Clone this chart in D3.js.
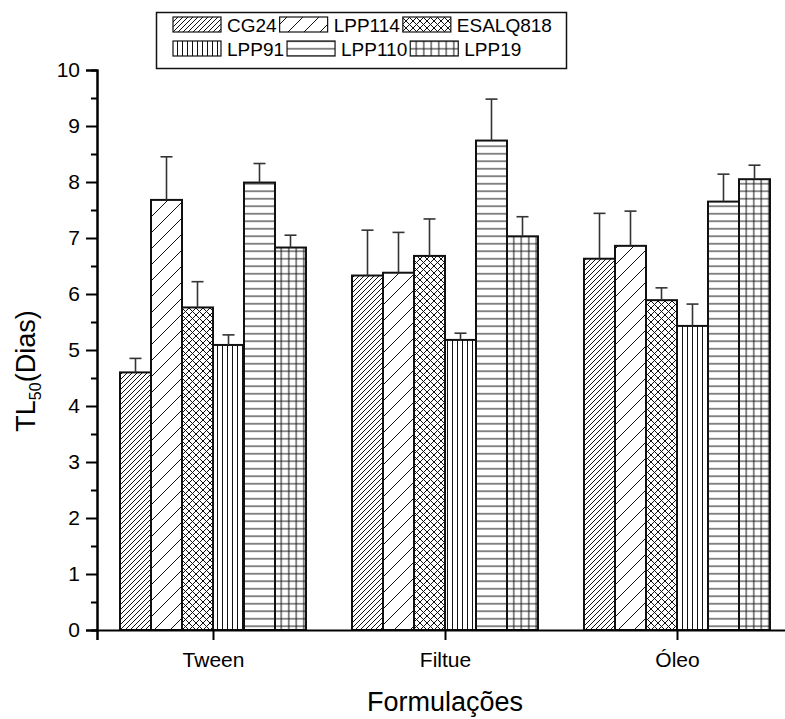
<html>
<head>
  <script src="https://d3js.org/d3.v7.min.js"></script>
  <style>
    body { margin: 0; background: white; }
    text { font-family: "Liberation Sans", Arial, sans-serif; fill: black; }
    .axis path, .axis line { stroke: black; stroke-width: 2px; }
    .axis text { font-size: 21px; font-family: "Liberation Sans", Arial, sans-serif; }
  </style>
</head>
<body>
  <svg id="chart" width="785" height="719"></svg>
  <script>
    const categories = ["Tween", "Filtue", "Óleo"];
    const series = ["CG24", "LPP114", "ESALQ818", "LPP91", "LPP110", "LPP19"];

    // mean TL50 per formulation (Tween, Filtue, Óleo)
    const cg24 = [4.60, 6.33, 6.63];
    const lpp114 = [7.68, 6.38, 6.86];
    const esalq818 = [5.76, 6.68, 5.89];
    const lpp91 = [5.09, 5.18, 5.43];
    const lpp110 = [7.99, 8.74, 7.65];
    const lpp19 = [6.83, 7.03, 8.05];

    // upper error (sd)
    const cg24Err = [0.25, 0.81, 0.81];
    const lpp114Err = [0.77, 0.72, 0.62];
    const esalq818Err = [0.46, 0.66, 0.22];
    const lpp91Err = [0.18, 0.12, 0.39];
    const lpp110Err = [0.34, 0.74, 0.49];
    const lpp19Err = [0.22, 0.35, 0.25];

    const yTicks = [0, 1, 2, 3, 4, 5, 6, 7, 8, 9, 10];

    const means = [cg24, lpp114, esalq818, lpp91, lpp110, lpp19];
    const errs = [cg24Err, lpp114Err, esalq818Err, lpp91Err, lpp110Err, lpp19Err];

    const data = [];
    series.forEach((s, si) => {
      categories.forEach((c, ci) => {
        data.push({ series: s, cat: ci + 1, value: means[si][ci], err: errs[si][ci] });
      });
    });

    const svg = d3.select("svg#chart");
    const plotLeft = 97, plotTop = 70, plotBottom = 630;

    const x = d3.scaleLinear().domain([0.5, 3.5]).range([plotLeft, plotLeft + 696]);
    const inner = d3.scaleBand().domain(series).range([-93, 93]);
    const y = d3.scaleLinear().domain([0, 10]).range([plotBottom, plotTop]);

    // hatch patterns
    const defs = svg.append("defs");
    function pat(id, w, h, d) {
      defs.append("pattern")
        .attr("id", id)
        .attr("patternUnits", "userSpaceOnUse")
        .attr("width", w)
        .attr("height", h)
        .append("path")
        .attr("d", d)
        .attr("stroke", "#111")
        .attr("stroke-width", 1)
        .attr("fill", "none");
    }
    function diag(s) {
      return "M0," + s + "L" + s + ",0M-1,1L1,-1M" + (s - 1) + "," + (s + 1) + "L" + (s + 1) + "," + (s - 1);
    }
    function cross(s) {
      return diag(s) + "M0,0L" + s + "," + s + "M-1," + (s - 1) + "L1," + (s + 1) + "M" + (s - 1) + ",-1L" + (s + 1) + ",1";
    }
    pat("p-CG24", 5, 5, diag(5));
    pat("p-LPP114", 16, 16, diag(16));
    pat("p-ESALQ818", 7, 7, cross(7));
    pat("p-LPP91", 5, 10, "M2.5,0V10");
    pat("p-LPP110", 10, 7.5, "M0,3.75H10");
    pat("p-LPP19", 7.5, 7.5, "M3.75,0V7.5M0,3.75H7.5");

    const bars = svg.append("g").attr("id", "bars");
    bars.selectAll("rect")
      .data(data)
      .join("rect")
      .attr("x", d => x(d.cat) + inner(d.series))
      .attr("y", d => y(d.value))
      .attr("width", inner.bandwidth())
      .attr("height", d => y(0) - y(d.value))
      .attr("fill", d => "url(#p-" + d.series + ")")
      .attr("stroke", "#111")
      .attr("stroke-width", 2);

    // error bars (upper only)
    const errG = svg.append("g").attr("id", "errors")
      .attr("stroke", "#333")
      .attr("stroke-width", 1.6);
    errG.selectAll("line.v")
      .data(data)
      .join("line")
      .attr("class", "v")
      .attr("x1", d => x(d.cat) + inner(d.series) + inner.bandwidth() / 2)
      .attr("x2", d => x(d.cat) + inner(d.series) + inner.bandwidth() / 2)
      .attr("y1", d => y(d.value))
      .attr("y2", d => y(d.value + d.err));
    errG.selectAll("line.cap")
      .data(data)
      .join("line")
      .attr("class", "cap")
      .attr("x1", d => x(d.cat) + inner(d.series) + inner.bandwidth() / 2 - 6)
      .attr("x2", d => x(d.cat) + inner(d.series) + inner.bandwidth() / 2 + 6)
      .attr("y1", d => y(d.value + d.err))
      .attr("y2", d => y(d.value + d.err));

    // axes
    const xAxis = d3.axisBottom(x)
      .tickValues([0.5, 1, 2, 3])
      .tickFormat(d => d === 0.5 ? "" : categories[d - 1])
      .tickSizeOuter(0)
      .tickSize(10)
      .tickPadding(12);
    svg.append("g")
      .attr("class", "x axis")
      .attr("transform", "translate(0," + plotBottom + ")")
      .call(xAxis);

    const yMinor = d3.axisLeft(y)
      .tickValues(yTicks.slice(0, -1).map(v => v + 0.5))
      .tickFormat("")
      .tickSizeOuter(0)
      .tickSize(6);
    svg.append("g")
      .attr("class", "y axis minor")
      .attr("transform", "translate(" + plotLeft + ",0)")
      .call(yMinor);

    const yAxis = d3.axisLeft(y)
      .tickValues(yTicks)
      .tickFormat(d3.format("d"))
      .tickSizeOuter(0)
      .tickSize(11)
      .tickPadding(6);
    svg.append("g")
      .attr("class", "y axis")
      .attr("transform", "translate(" + plotLeft + ",0)")
      .call(yAxis);

    svg.append("text")
      .text("Formulações")
      .attr("x", x(2))
      .attr("y", 711)
      .attr("text-anchor", "middle")
      .style("font-size", "27px");

    const yTitle = svg.append("text")
      .attr("transform", "translate(35,371) rotate(-90)")
      .attr("text-anchor", "middle")
      .style("font-size", "27px");
    yTitle.append("tspan").text("TL");
    yTitle.append("tspan").text("50").style("font-size", "16px").attr("dy", 6);
    yTitle.append("tspan").text("(Dias)").attr("dy", -6);

    // legend
    const legend = svg.append("g").attr("id", "legend");
    legend.append("rect")
      .attr("x", 156.5)
      .attr("y", 12.5)
      .attr("width", 410)
      .attr("height", 56)
      .attr("fill", "white")
      .attr("stroke", "#111")
      .attr("stroke-width", 1.5);
    const rows = [series.slice(0, 3), series.slice(3)];
    rows.forEach((row, ri) => {
      let cx = 173;
      const sy = 17 + ri * 24;
      row.forEach(s => {
        legend.append("rect")
          .attr("x", cx)
          .attr("y", sy)
          .attr("width", 48)
          .attr("height", 15)
          .attr("fill", "url(#p-" + s + ")")
          .attr("stroke", "#111")
          .attr("stroke-width", 1.2);
        const t = legend.append("text")
          .text(s)
          .attr("x", cx + 54)
          .attr("y", sy + 15)
          .style("font-size", "19px");
        cx = cx + 54 + t.node().getComputedTextLength() + 3;
      });
    });
  </script>
</body>
</html>
